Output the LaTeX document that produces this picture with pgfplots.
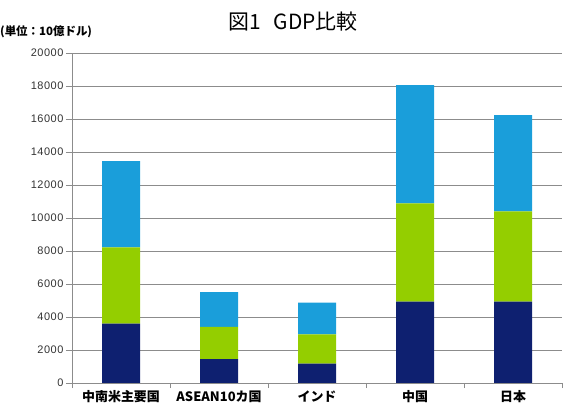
\documentclass[border=0pt]{standalone}
\usepackage{fontspec}
\usepackage{pgfplots}
\pgfplotsset{compat=1.18}
\setmainfont{Liberation Sans}
\newfontfamily\cjk{Noto Sans CJK JP}
\newfontfamily\tickfont[LetterSpace=5]{Liberation Sans}
\definecolor{navy}{RGB}{14,32,112}
\definecolor{lgreen}{RGB}{148,206,0}
\definecolor{lblue}{RGB}{26,158,218}
\definecolor{gridgray}{RGB}{140,140,140}
\begin{document}
\begin{tikzpicture}
\useasboundingbox (0,0) rectangle (563bp,411bp);
\begin{axis}[
  at={(72bp,28bp)}, anchor=south west,
  width=490bp, height=330bp, scale only axis,
  ybar stacked, bar width=38bp,
  xmin=-0.5, xmax=4.5, ymin=0, ymax=20000,
  axis x line=bottom, axis y line=left,
  axis line style={-, draw=gridgray, line width=0.8bp},
  ytick={0,2000,...,20000},
  scaled y ticks=false,
  xtick={0,1,2,3,4},
  xticklabels={中南米主要国,ASEAN10カ国,インド,中国,日本},
  minor xtick={-0.5,0.5,1.5,2.5,3.5,4.5},
  tick align=outside,
  major tick length=6bp, minor tick length=5bp,
  major x tick style={draw=none},
  minor x tick style={gridgray, line width=0.8bp},
  major y tick style={gridgray, line width=0.8bp},
  ymajorgrids, grid style={gridgray, line width=0.8bp},
  /pgf/number format/1000 sep={},
  /pgf/number format/assume math mode=true,
  yticklabel style={font=\tickfont\fontsize{11}{13}\selectfont, text=black!80, xshift=1bp},
  xticklabel style={font=\cjk\bfseries\fontsize{13}{15}\selectfont, yshift=2bp},
  every axis plot/.append style={draw=none},
]
\addplot[fill=navy] coordinates {(0,3600) (1,1450) (2,1180) (3,4930) (4,4930)};
\addplot[fill=lgreen] coordinates {(0,4620) (1,1950) (2,1770) (3,5960) (4,5470)};
\addplot[fill=lblue] coordinates {(0,5230) (1,2100) (2,1920) (3,7170) (4,5840)};
\end{axis}
\node[font=\cjk\fontsize{21}{24}\selectfont] at (293bp,389bp) {図1\hspace{0.6em}GDP比較};
\node[anchor=west, inner sep=0pt, font=\cjk\bfseries\fontsize{11.5}{13}\selectfont] at (0bp,379bp) {(単位：10億ドル)};
\end{tikzpicture}
\end{document}
